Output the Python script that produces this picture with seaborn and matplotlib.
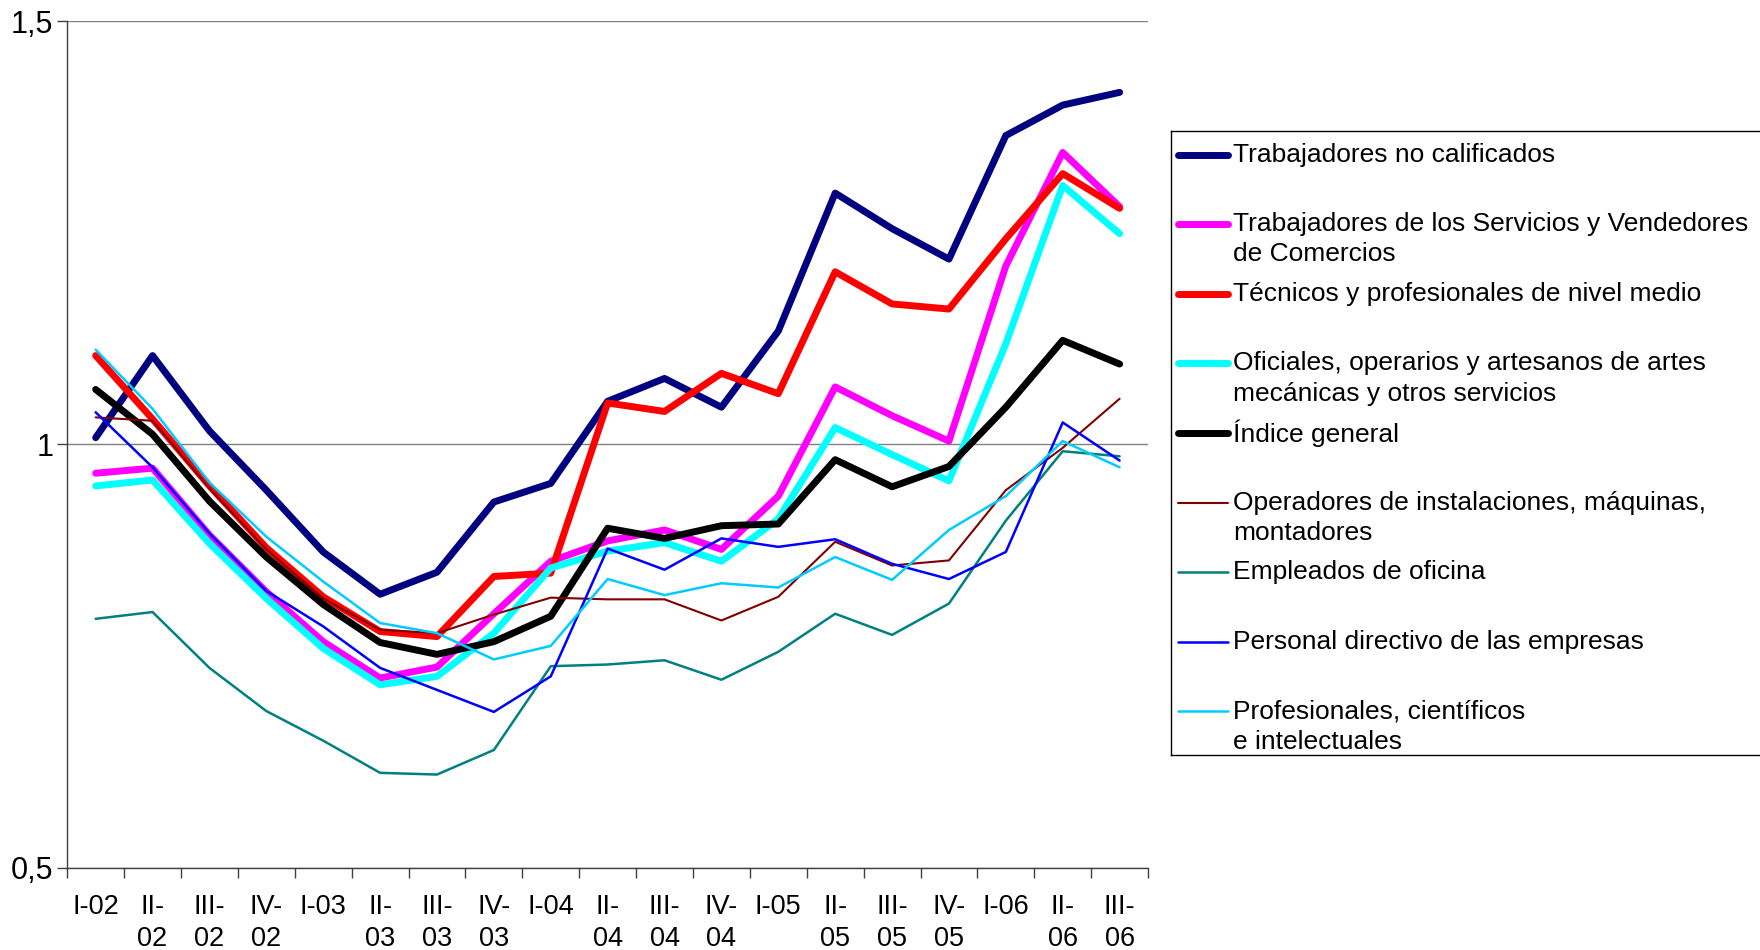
import numpy as np
import matplotlib
matplotlib.use("Agg")
import matplotlib.pyplot as plt
import seaborn as sns

# Trimestres (eje X)
periodos = ["I-02", "II-02", "III-02", "IV-02", "I-03", "II-03", "III-03", "IV-03",
            "I-04", "II-04", "III-04", "IV-04", "I-05", "II-05", "III-05", "IV-05",
            "I-06", "II-06", "III-06"]
etiquetas = ["I-02", "II-\n02", "III-\n02", "IV-\n02", "I-03", "II-\n03", "III-\n03", "IV-\n03",
             "I-04", "II-\n04", "III-\n04", "IV-\n04", "I-05", "II-\n05", "III-\n05", "IV-\n05",
             "I-06", "II-\n06", "III-\n06"]

# Índices por grupo ocupacional
no_calificados = [1.008, 1.105, 1.016, 0.946, 0.873, 0.823, 0.849, 0.932, 0.954, 1.051,
                  1.078, 1.044, 1.134, 1.297, 1.255, 1.219, 1.365, 1.401, 1.416]
servicios = [0.966, 0.972, 0.893, 0.826, 0.767, 0.724, 0.737, 0.800, 0.862, 0.886,
             0.899, 0.876, 0.939, 1.068, 1.034, 1.004, 1.211, 1.345, 1.281]
tecnicos = [1.105, 1.030, 0.951, 0.878, 0.820, 0.779, 0.773, 0.844, 0.848, 1.049,
            1.039, 1.084, 1.060, 1.204, 1.166, 1.160, 1.243, 1.320, 1.279]
oficiales = [0.951, 0.958, 0.883, 0.818, 0.759, 0.716, 0.726, 0.777, 0.854, 0.874,
             0.884, 0.862, 0.912, 1.020, 0.988, 0.957, 1.119, 1.306, 1.249]
indice_general = [1.065, 1.012, 0.933, 0.867, 0.811, 0.766, 0.752, 0.767, 0.797, 0.901,
                  0.889, 0.904, 0.906, 0.982, 0.950, 0.974, 1.044, 1.123, 1.095]
operadores = [1.032, 1.028, 0.948, 0.876, 0.818, 0.781, 0.777, 0.799, 0.819, 0.817,
              0.817, 0.792, 0.820, 0.885, 0.857, 0.863, 0.946, 0.996, 1.054]
empleados = [0.794, 0.802, 0.736, 0.685, 0.650, 0.612, 0.610, 0.639, 0.738, 0.740,
             0.745, 0.722, 0.755, 0.800, 0.775, 0.812, 0.910, 0.992, 0.986]
directivos = [1.038, 0.973, 0.895, 0.827, 0.785, 0.736, 0.710, 0.684, 0.726, 0.877,
              0.852, 0.889, 0.879, 0.888, 0.859, 0.841, 0.873, 1.026, 0.981]
profesionales = [1.112, 1.042, 0.955, 0.891, 0.838, 0.789, 0.777, 0.746, 0.762, 0.841,
                 0.822, 0.836, 0.831, 0.867, 0.840, 0.899, 0.939, 1.004, 0.973]

nombres = [
    "Trabajadores no calificados",
    "Trabajadores de los Servicios y Vendedores\nde Comercios",
    "Técnicos y profesionales de nivel medio",
    "Oficiales, operarios y artesanos de artes\nmecánicas y otros servicios",
    "Índice general",
    "Operadores de instalaciones, máquinas,\nmontadores",
    "Empleados de oficina",
    "Personal directivo de las empresas",
    "Profesionales, científicos\ne intelectuales",
]
valores = [no_calificados, servicios, tecnicos, oficiales, indice_general,
           operadores, empleados, directivos, profesionales]
colores = ["#000080", "#FF00FF", "#FF0000", "#00FFFF", "#000000",
           "#800000", "#008080", "#0000FF", "#00CCFF"]
grosores = [5.0, 5.0, 5.0, 5.0, 5.0, 1.5, 1.8, 1.8, 1.8]

sns.set_theme(style="white")
plt.rcParams["font.family"] = ["Liberation Sans", "DejaVu Sans"]
FS = 19.5
FS_LEY = 19.0
FS_Y = 22.0

fig = plt.figure(figsize=(17.6, 9.5), dpi=100)
ax = fig.add_axes([0.0382, 0.0867, 0.6141, 0.8909])

x = np.arange(len(periodos))
for vals, col, lw in zip(valores, colores, grosores):
    sns.lineplot(x=x, y=vals, ax=ax, color=col, linewidth=lw, sort=False,
                 estimator=None, solid_capstyle="round", solid_joinstyle="round")

ax.set_xlim(-0.5, len(periodos) - 0.5)
ax.set_ylim(0.5, 1.5)
ax.set_yticks([0.5, 1.0, 1.5])
ax.set_yticklabels(["0,5", "1", "1,5"])
ax.yaxis.grid(True, color="#808080", linewidth=1.0)
ax.xaxis.grid(False)
ax.set_axisbelow(True)

for s in ["top", "right"]:
    ax.spines[s].set_visible(False)
for s in ["left", "bottom"]:
    ax.spines[s].set_color("#404040")
    ax.spines[s].set_linewidth(1.0)

ax.set_xticks(np.arange(-0.5, len(periodos), 1.0))
ax.set_xticklabels([])
ax.set_xticks(x, minor=True)
ax.set_xticklabels(etiquetas, minor=True)
for lab in ax.get_xticklabels(minor=True):
    lab.set_linespacing(1.32)
ax.tick_params(axis="x", which="major", bottom=True, length=7, width=1,
               color="#404040", direction="out")
ax.tick_params(axis="x", which="minor", bottom=True, length=0, pad=19,
               labelsize=FS, labelcolor="black")
ax.tick_params(axis="y", left=True, length=7, width=1, color="#404040",
               direction="out", pad=3, labelsize=FS_Y, labelcolor="black")
ax.set_xlabel("")
ax.set_ylabel("")

# Leyenda en recuadro propio
lax = fig.add_axes([0.6651, 0.2048, 0.34, 0.657])
W, H = 0.34 * 1760, 0.657 * 950
lax.set_xlim(0, W)
lax.set_ylim(H, 0)
lax.set_xticks([])
lax.set_yticks([])
lax.set_facecolor("white")
for s in lax.spines.values():
    s.set_visible(True)
    s.set_color("black")
    s.set_linewidth(1.0)

y0, paso, interlinea = 23.3, 69.6, 30.3
for i, (nombre, col, lw) in enumerate(zip(nombres, colores, grosores)):
    yy = y0 + paso * i
    lax.plot([7.9, 57.4], [yy, yy], color=col, linewidth=lw, solid_capstyle="round")
    for k, linea in enumerate(nombre.split("\n")):
        lax.text(62.9, yy + k * interlinea, linea, ha="left", va="center",
                 fontsize=FS_LEY, color="black")

fig.savefig("out.png", dpi=100)
